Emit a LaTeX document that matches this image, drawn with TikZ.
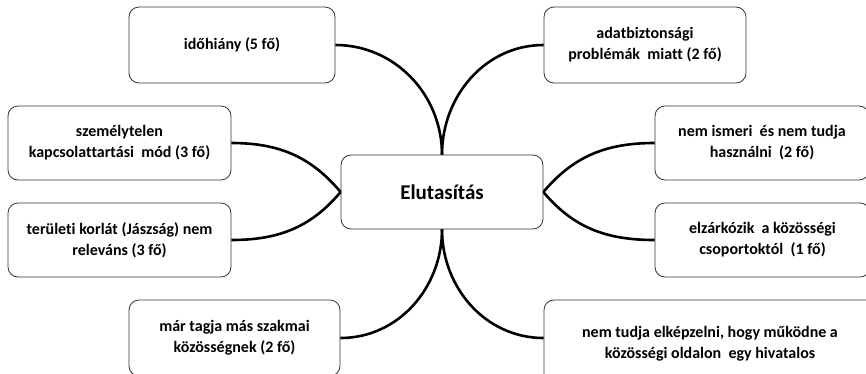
\documentclass[tikz,border=0pt]{standalone}
\usepackage{fontspec}
\setmainfont[Ligatures={NoCommon}]{Carlito}
\usepackage{tikz}
\usetikzlibrary{shapes,arrows,positioning,calc}

\tikzset{
    reason/.style={draw=black!80, line width=0.8pt, rounded corners=10pt, align=center,
        font=\fontsize{16}{21}\selectfont\bfseries, inner sep=0pt},
    mainbox/.style={reason, minimum width=202pt, minimum height=74pt,
        font=\fontsize{21}{24}\selectfont\bfseries},
    branch/.style={line width=2.6pt}
}

\begin{document}
\begin{tikzpicture}[x=1pt, y=-1pt]
    % page frame
    \useasboundingbox (0,0) rectangle (866,373);
    \clip (0,0) rectangle (866,373);

    % central node
    \node[mainbox] (elut) at (442,192) {Elutasítás};

    % reasons, left side
    \node[reason, minimum width=206pt, minimum height=76pt] (ido) at (232,45) {időhiány (5 fő)};
    \node[reason, minimum width=223pt, minimum height=74pt] (szem) at (119.5,143) {személytelen\\kapcsolattartási~ mód (3 fő)};
    \node[reason, minimum width=223pt, minimum height=74pt] (teru) at (119.5,240) {területi korlát (Jászság) nem\\releváns (3 fő)};
    \node[reason, minimum width=211pt, minimum height=76pt] (mar) at (234.5,338) {már tagja más szakmai\\közösségnek (2 fő)};

    % reasons, right side
    \node[reason, minimum width=202pt, minimum height=76pt] (adat) at (645,45) {adatbiztonsági\\problémák~ miatt (2 fő)};
    \node[reason, minimum width=214pt, minimum height=74pt] (ism) at (762,143) {nem ismeri~ és nem tudja\\használni~ (2 fő)};
    \node[reason, minimum width=215pt, minimum height=74pt] (elz) at (762.5,240) {elzárkózik~ a közösségi\\csoportoktól~ (1 fő)};
    \node[reason, minimum width=332pt, minimum height=88pt] (tud) at (710,344) {nem tudja elképzelni, hogy működne a\\közösségi oldalon~ egy hivatalos};

    % branches
    \draw[branch] (ido.east) to[out=0, in=90] (elut.north);
    \draw[branch] (adat.west) to[out=180, in=90] (elut.north);
    \draw[branch] (szem.east) to[out=0, in=130] (elut.west);
    \draw[branch] (teru.east) to[out=0, in=230] (elut.west);
    \draw[branch] (ism.west) to[out=180, in=50] (elut.east);
    \draw[branch] (elz.west) to[out=180, in=-50] (elut.east);
    \draw[branch] (mar.east) to[out=0, in=-90] (elut.south);
    \draw[branch] (tud.west |- mar.east) to[out=180, in=-90] (elut.south);

\end{tikzpicture}
\end{document}
